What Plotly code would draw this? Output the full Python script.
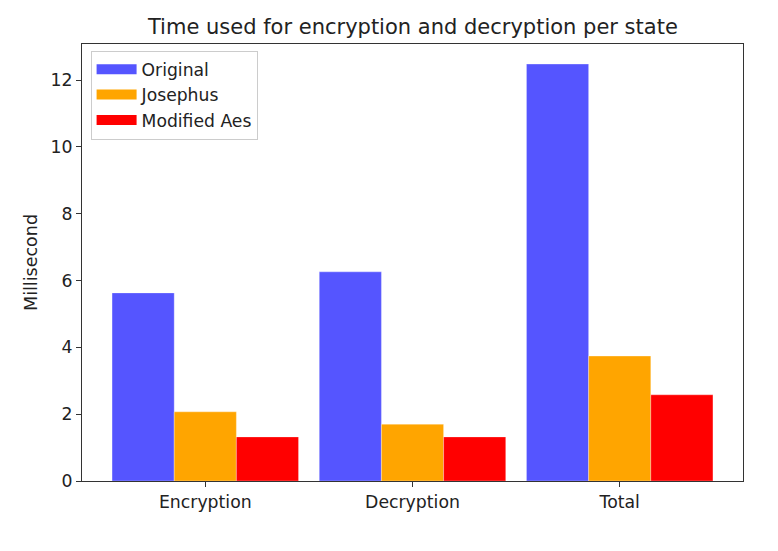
import plotly.graph_objects as go

categories = ["Encryption", "Decryption", "Total"]
original = [5.63, 6.26, 12.48]
josephus = [2.07, 1.70, 3.74]
modified_aes = [1.32, 1.32, 2.58]

series = [
    ("Original", original, "#5555ff"),
    ("Josephus", josephus, "#ffa500"),
    ("Modified Aes", modified_aes, "#ff0000"),
]

fig = go.Figure()
for name, vals, col in series:
    fig.add_trace(go.Bar(x=categories, y=vals, name=name, marker=dict(color=col, line=dict(width=0.6, color="rgba(255,255,255,0.5)")),
                         showlegend=False))
for name, vals, col in series:
    fig.add_trace(go.Scatter(x=[None], y=[None], mode="lines", name=name,
                             line=dict(color=col, width=12)))

font = "DejaVu Sans"
fig.update_layout(
    width=778, height=551,
    margin=dict(l=82, r=35, t=44, b=70),
    paper_bgcolor="white", plot_bgcolor="white",
    barmode="group", bargap=0.1, bargroupgap=0,
    font=dict(family=font, size=17.3, color="#222222"),
    title=dict(text="Time used for encryption and decryption per state", x=0.5307, xanchor="center",
               y=1 - 27 / 551, yanchor="middle", font=dict(size=21, family=font, color="#222222")),
    legend=dict(x=0.013, y=0.985, xanchor="left", yanchor="top", bgcolor="rgba(255,255,255,0.8)",
                bordercolor="#cccccc", borderwidth=1, font=dict(size=17.2, family=font, color="#222222"),
                itemwidth=40, tracegroupgap=0),
    showlegend=True,
)
fig.update_xaxes(type="category", range=[-0.595, 2.595], showline=True, linecolor="#333333", linewidth=1.2,
                 mirror=True, ticks="outside", ticklen=5, tickcolor="#333333", showgrid=False, zeroline=False)
fig.update_yaxes(range=[0, 13.08], showline=True, linecolor="#333333", linewidth=1.2, mirror=True,
                 ticks="outside", ticklen=5, tickcolor="#333333", showgrid=False, zeroline=False,
                 tickvals=[0, 2, 4, 6, 8, 10, 12], title=dict(text="Millisecond", standoff=8,
                 font=dict(size=17.5, family=font, color="#222222")))

fig.write_html("out.html")
